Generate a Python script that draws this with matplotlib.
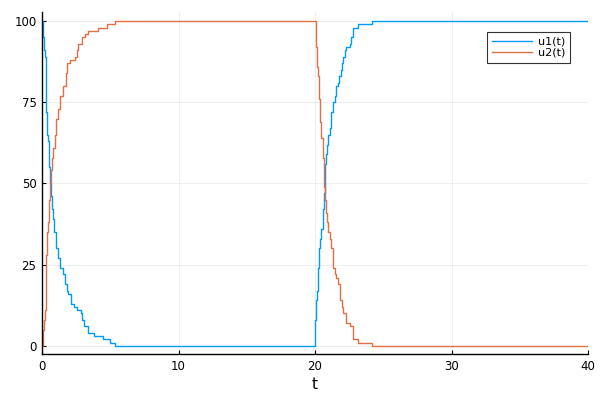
import matplotlib
matplotlib.use("Agg")
import matplotlib.pyplot as plt

# u1(t): jump times and values
t1 = [0.0, 0.05, 0.1, 0.16, 0.22, 0.26, 0.3, 0.34, 0.46, 0.52, 0.58, 0.63, 0.7, 0.8, 0.9,
      1.0, 1.15, 1.3, 1.54, 1.68, 1.8, 1.93, 2.1, 2.37, 2.6, 2.84, 2.95, 3.1, 3.37, 3.8,
      4.5, 5.0, 5.35,
      20.0, 20.03, 20.05, 20.15, 20.22, 20.3, 20.38, 20.46, 20.6, 20.65, 20.7, 20.75, 20.8,
      20.88, 20.95, 21.1, 21.2, 21.3, 21.45, 21.57, 21.67, 21.77, 21.87, 21.95, 22.07,
      22.17, 22.27, 22.55, 22.65, 22.8, 23.15, 24.2, 40.0]
u1 = [100, 97, 95, 91, 89, 80, 72, 65, 63, 55, 50, 46, 42, 39, 35,
      30, 27, 24, 22, 19, 17, 16, 13, 12, 11, 10, 8, 6, 4, 3,
      2, 1, 0,
      0, 8, 14, 17, 24, 30, 33, 36, 42, 47, 53, 56, 59,
      62, 65, 67, 72, 75, 77, 80, 81, 83, 85, 87, 89,
      91, 92, 93, 95, 98, 99, 100, 100]

# u2(t): jump times and values
t2 = [0.0, 0.05, 0.12, 0.22, 0.26, 0.3, 0.34, 0.46, 0.52, 0.58, 0.63, 0.72, 0.83, 0.93,
      1.03, 1.15, 1.32, 1.56, 1.73, 1.85, 2.05, 2.4, 2.55, 2.66, 2.9, 3.15, 3.4, 4.12,
      4.74, 5.35,
      20.0, 20.06, 20.12, 20.24, 20.3, 20.36, 20.46, 20.6, 20.63, 20.66, 20.72, 20.78,
      20.86, 20.95, 21.1, 21.2, 21.3, 21.45, 21.57, 21.7, 21.8, 21.95, 22.07, 22.3,
      22.55, 22.8, 23.15, 24.2, 40.0]
u2 = [0, 5, 8, 11, 20, 28, 35, 38, 45, 50, 54, 58, 61, 65,
      70, 73, 77, 80, 84, 87, 88, 89, 91, 93, 95, 96, 97, 98,
      99, 100,
      100, 92, 86, 83, 76, 69, 64, 58, 54, 49, 45, 41,
      38, 35, 33, 30, 24, 22, 21, 19, 14, 12, 10, 7,
      6, 2, 1, 0, 0]

xticks = [0, 10, 20, 30, 40]
yticks = [0, 25, 50, 75, 100]

fig = plt.figure(figsize=(6, 4), dpi=100)
ax = fig.add_axes([0.07, 0.115, 0.91, 0.855])

ax.step(t1, u1, where="post", color="#009AFA", lw=1.0, label="u1(t)")
ax.step(t2, u2, where="post", color="#E26F46", lw=1.0, label="u2(t)")

ax.set_xlim(0, 40)
ax.set_ylim(-2.5, 102.8)
ax.set_xticks(xticks)
ax.set_yticks(yticks)
ax.grid(True, color="black", alpha=0.08, lw=0.6)
ax.set_axisbelow(True)

for s in ["top", "right"]:
    ax.spines[s].set_visible(False)
for s in ["left", "bottom"]:
    ax.spines[s].set_linewidth(1.0)

ax.tick_params(direction="in", length=3, width=0.8, labelsize=8.5, pad=4)
ax.set_xlabel("t", fontsize=11, labelpad=3)

leg = ax.legend(loc="upper right", bbox_to_anchor=(0.967, 0.942), fontsize=8,
                frameon=True, fancybox=False, handlelength=3.6, borderpad=0.45,
                labelspacing=0.1, handletextpad=0.5, borderaxespad=0)
leg.get_frame().set_edgecolor("black")
leg.get_frame().set_linewidth(0.8)

fig.savefig("out.png", dpi=100)
